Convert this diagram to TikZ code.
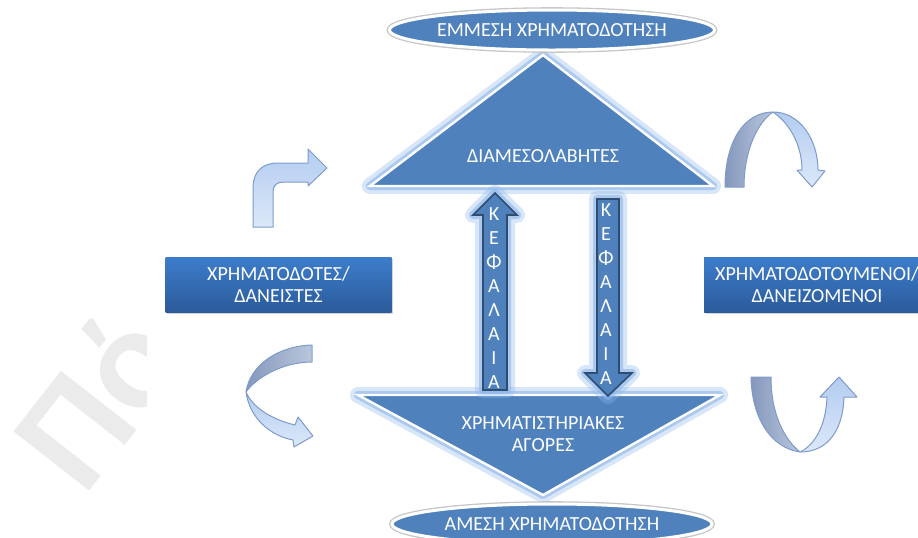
\documentclass[tikz,border=0pt]{standalone}
\usepackage{fontspec}
\setmainfont{Carlito}
\usetikzlibrary{positioning, shapes.geometric, shadows}

\definecolor{offblue}{HTML}{4F81BD}
\definecolor{glowblue}{HTML}{8DB6EA}
\definecolor{boxtop}{HTML}{3D7DCB}
\definecolor{boxbot}{HTML}{2B5B9B}
\definecolor{ribbonlt}{HTML}{B3CCF0}
\definecolor{ribbonlt2}{HTML}{DCE8F9}
\definecolor{ribbondk}{HTML}{8598BC}
\definecolor{ribbondk2}{HTML}{B9C6DD}
\definecolor{ribbonedge}{HTML}{7C9BCB}

\tikzset{
  lbl/.style={text=white, font=\fontsize{10}{11}\selectfont, align=center},
  oval/.style={ellipse, fill=offblue, draw=white, line width=1.5pt,
    preaction={draw=gray!45, line width=2.8pt},
    minimum width=160pt, minimum height=20pt, inner sep=0pt, lbl},
  fundbox/.style={rectangle, top color=boxtop, bottom color=boxbot,
    minimum width=113pt, minimum height=27.5pt, inner sep=0pt, lbl,
    drop shadow={shadow xshift=.8pt, shadow yshift=-.8pt, opacity=.35}},
  glow/.style={preaction={draw=glowblue, line width=8pt, opacity=.35, line join=round},
    preaction={draw=glowblue, line width=4pt, opacity=.6, line join=round}},
  tri/.style={glow, fill=offblue, draw=white, line width=1.2pt, line join=miter},
  capital/.style={glow, fill=offblue, draw=offblue!60!black, line width=.8pt, line join=miter},
  ribbon/.style={draw=ribbonedge, line width=.5pt, line join=round},
  lightface/.style={ribbon, top color=ribbonlt, bottom color=ribbonlt2},
  darkface/.style={ribbon, left color=ribbondk, right color=ribbondk2}
}

\begin{document}
\begin{tikzpicture}[x=0.5pt, y=-0.5pt]
\clip (0,0) rectangle (918,537);

\begin{scope}
\clip (0,0) rectangle (146,537);
\node[rotate=52, anchor=base west, inner sep=0pt, text=gray!16, font=\fontsize{74}{74}\selectfont\bfseries] (watermark) at (84,498) {Πό};
\end{scope}

\draw[tri] (370,186) -- (543,55) -- (713,186) -- cycle;
\node[lbl] (diames) at (543,156) {ΔΙΑΜΕΣΟΛΑΒΗΤΕΣ};

\draw[tri] (358,395) -- (720,395) -- (543,495) -- cycle;
\node[lbl] (agores) at (543,434) {ΧΡΗΜΑΤΙΣΤΗΡΙΑΚΕΣ\\ΑΓΟΡΕΣ};

\node[oval] (emmesi) at (552,30) {ΕΜΜΕΣΗ ΧΡΗΜΑΤΟΔΟΤΗΣΗ};
\node[oval] (amesi) at (552,524) {ΑΜΕΣΗ ΧΡΗΜΑΤΟΔΟΤΗΣΗ};

\draw[capital] (483,390) -- (483,215) -- (473,215) -- (495,193) -- (517,215) -- (507,215) -- (507,390) -- cycle;
\node[lbl, font=\fontsize{10}{12}\selectfont] (kefup) at (494,298) {Κ\\Ε\\Φ\\Α\\Λ\\Α\\Ι\\Α};

\draw[capital] (597,199) -- (619,199) -- (619,373) -- (632,373) -- (608,396) -- (585,373) -- (597,373) -- cycle;
\node[lbl, font=\fontsize{10}{12}\selectfont] (kefdown) at (606,294) {Κ\\Ε\\Φ\\Α\\Λ\\Α\\Ι\\Α};

\node[fundbox] (daneistes) at (278.5,284.5) {ΧΡΗΜΑΤΟΔΟΤΕΣ/\\ΔΑΝΕΙΣΤΕΣ};
\node[fundbox] (daneizomenoi) at (817,284.5) {ΧΡΗΜΑΤΟΔΟΤΟΥΜΕΝΟΙ/\\ΔΑΝΕΙΖΟΜΕΝΟΙ};

\draw[lightface] (253,227) -- (253,188) .. controls (253,172) and (262,163) .. (278,163)
  -- (308,163) -- (308,149) -- (327,168) -- (308,186) -- (308,182) -- (284,182)
  .. controls (277,182) and (273,185) .. (273,192) -- (273,227) -- cycle;

\draw[darkface] (312,345) .. controls (278,346) and (250,365) .. (246,392)
  .. controls (256,378) and (282,362) .. (312,362) -- cycle;
\draw[lightface] (246,392) .. controls (250,420) and (272,436) .. (293,440)
  -- (294,447) -- (313,436) -- (298,417) -- (295,425)
  .. controls (275,420) and (254,410) .. (246,392) -- cycle;

\draw[darkface] (725,187) .. controls (725,140) and (745,112) .. (773,112)
  .. controls (758,122) and (744,150) .. (744,187) -- cycle;
\draw[lightface] (773,112) .. controls (800,112) and (818,140) .. (818,170)
  -- (825,171) -- (812,187) -- (797,170) -- (802,170)
  .. controls (802,148) and (792,125) .. (773,112) -- cycle;

\draw[darkface] (751,377) .. controls (752,420) and (772,448) .. (800,452)
  .. controls (785,440) and (771,415) .. (771,377) -- cycle;
\draw[lightface] (800,452) .. controls (828,452) and (843,430) .. (844,397)
  -- (857,397) -- (839,377) -- (820,397) -- (827,397)
  .. controls (826,425) and (815,445) .. (800,452) -- cycle;
\end{tikzpicture}
\end{document}
